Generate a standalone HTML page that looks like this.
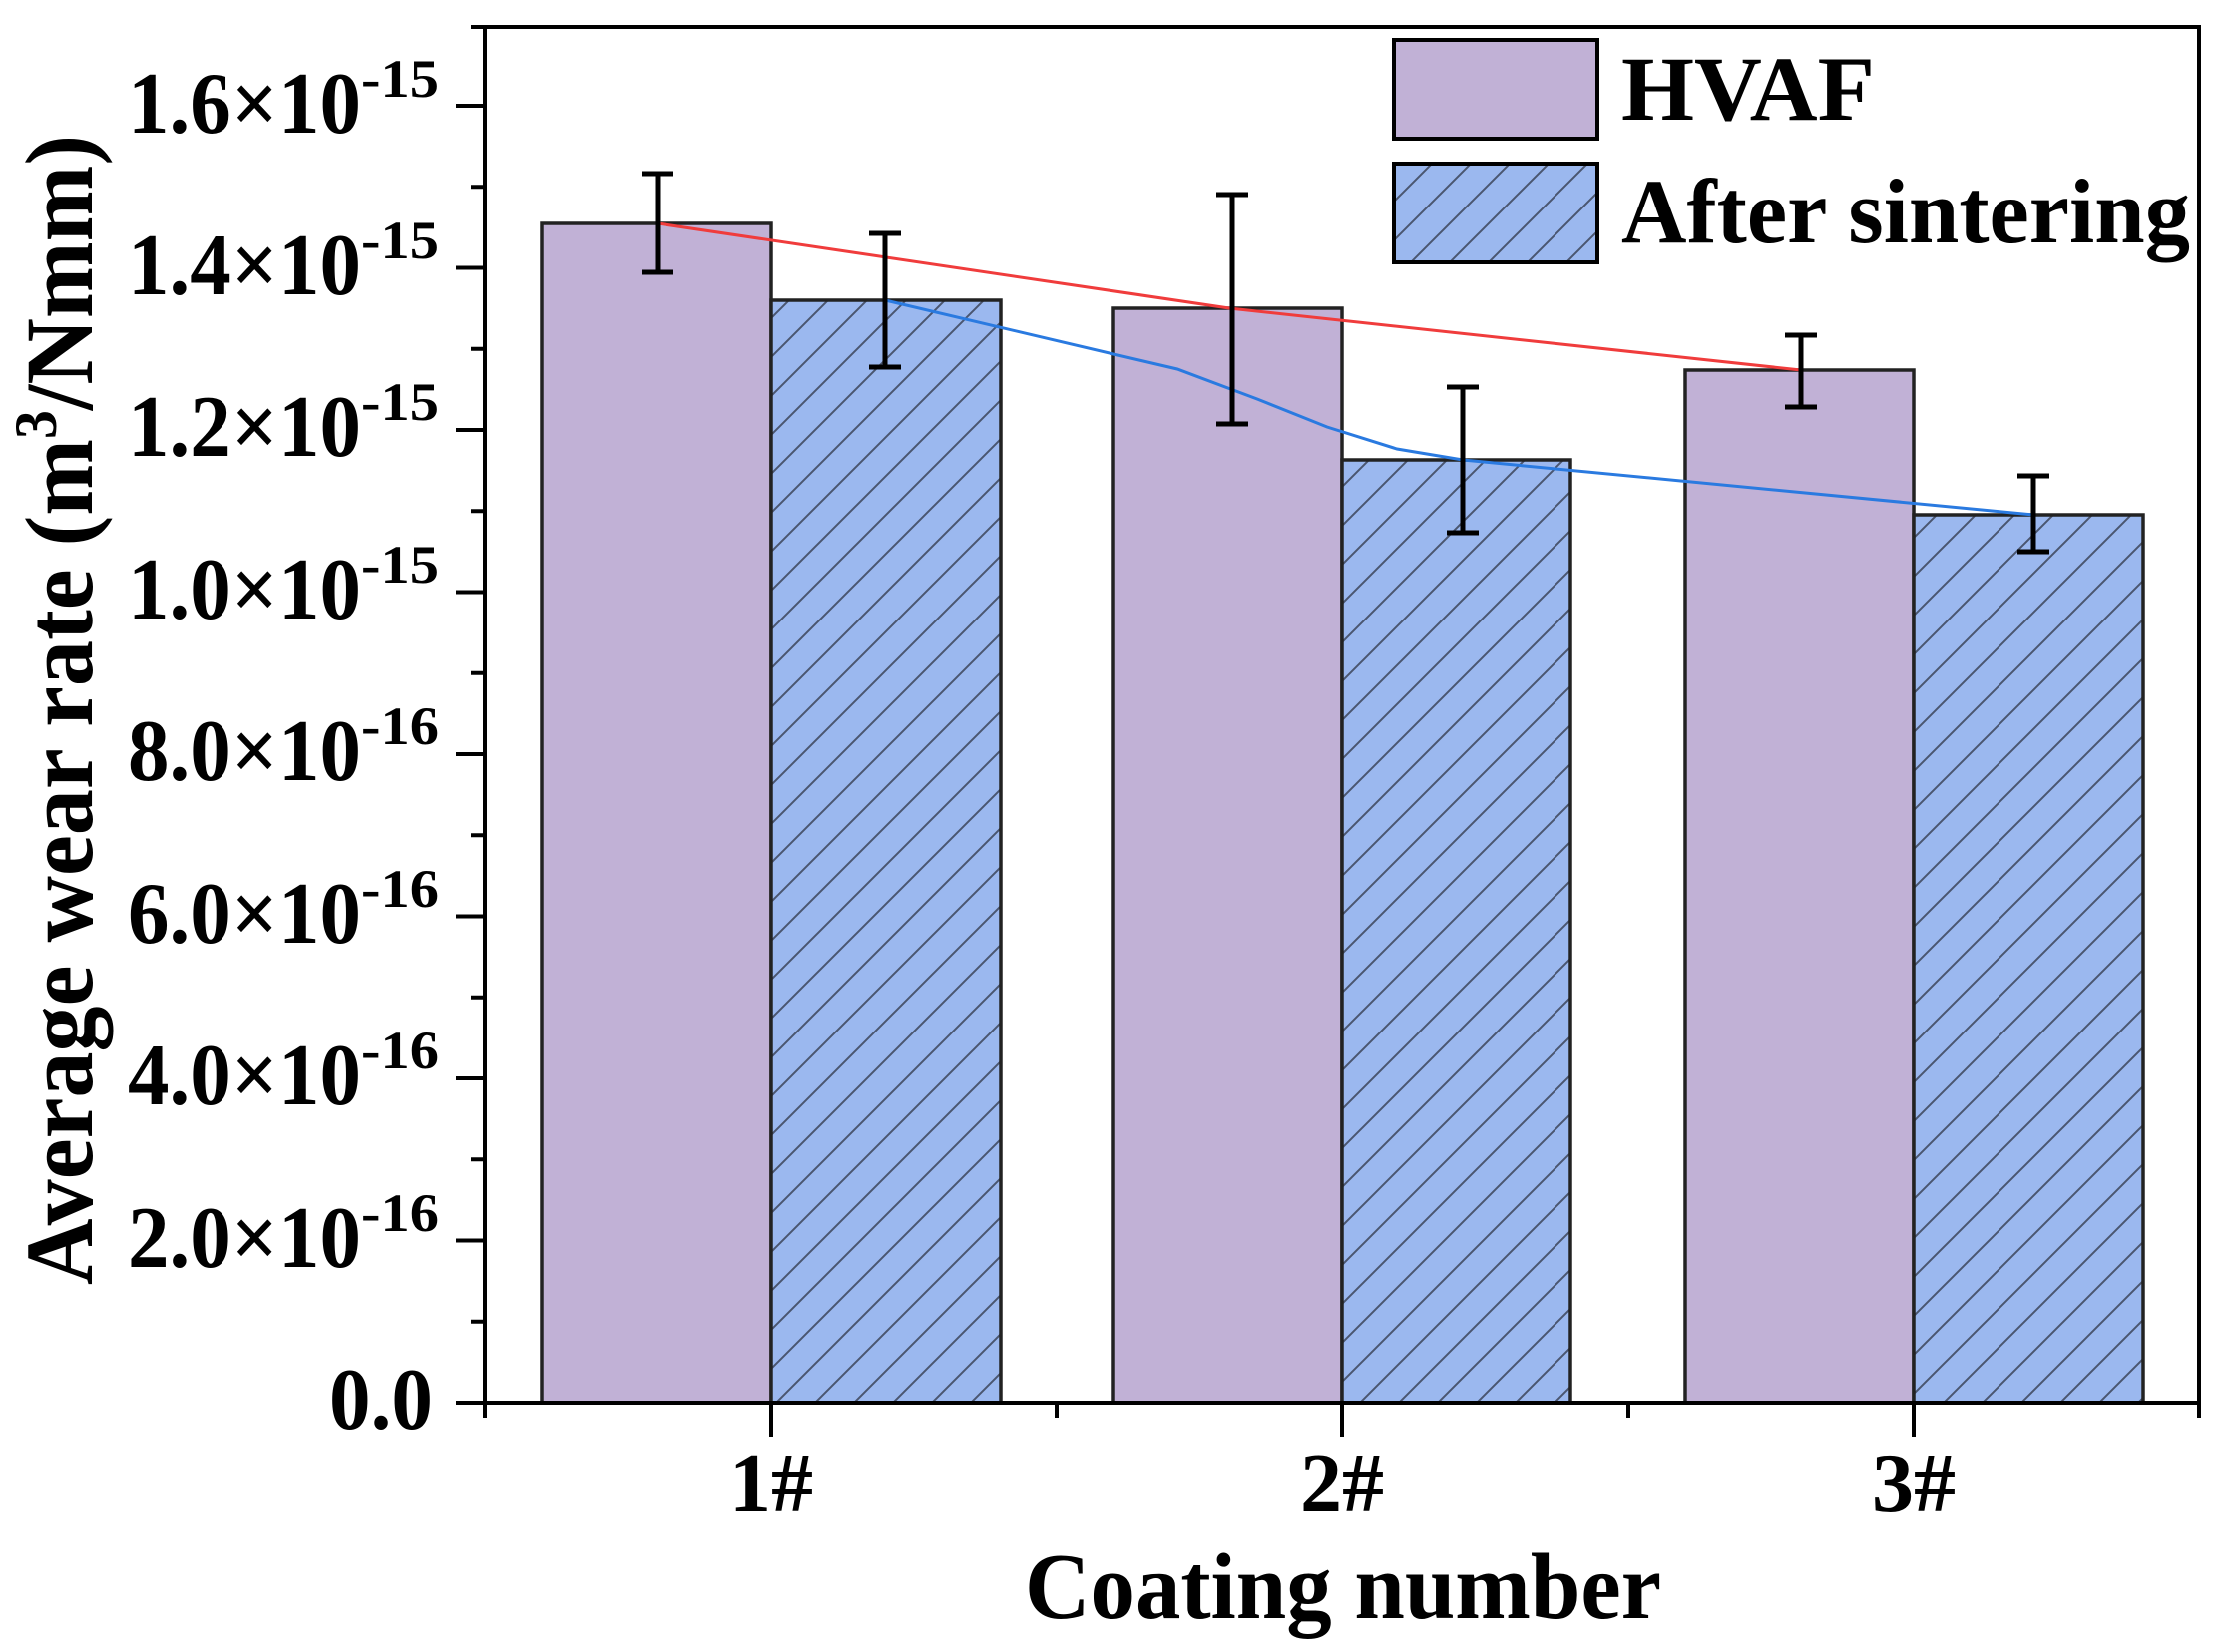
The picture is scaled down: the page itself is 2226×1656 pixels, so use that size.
<!DOCTYPE html>
<html><head><meta charset="utf-8"><style>html,body{margin:0;padding:0;background:#fff}svg{display:block}</style></head>
<body>
<svg width="2226" height="1656" viewBox="0 0 2226 1656" xmlns="http://www.w3.org/2000/svg" font-family="'Liberation Serif', serif" font-weight="bold">
<defs>
<pattern id="h" patternUnits="userSpaceOnUse" width="39" height="39">
<rect width="39" height="39" fill="#9bb8ef"/>
<path d="M-10,49 L49,-10 M-10,10 L10,-10 M29,49 L49,29" stroke="#4a5670" stroke-width="2"/>
</pattern>
</defs>
<g stroke="#222" stroke-width="3.5">
<rect x="543" y="224" width="230" height="1182" fill="#c1b1d6"/>
<rect x="773" y="301" width="230" height="1105" fill="url(#h)"/>
<rect x="1116" y="309" width="229" height="1097" fill="#c1b1d6"/>
<rect x="1345" y="461" width="229" height="945" fill="url(#h)"/>
<rect x="1689" y="371" width="229" height="1035" fill="#c1b1d6"/>
<rect x="1918" y="516" width="230" height="890" fill="url(#h)"/>
</g>
<polyline points="659,224 1232,309 1805,371" fill="none" stroke="#f03c3c" stroke-width="3"/>
<polyline points="887,301 1180,370 1260,400 1330,428 1400,450 1466,461 2038,516" fill="none" stroke="#2a7ae0" stroke-width="3"/>
<g stroke="#000" stroke-width="5" fill="none">
<path d="M659,174V273M643,174H675M643,273H675"/>
<path d="M887,234V368M871,234H903M871,368H903"/>
<path d="M1235,195V425M1219,195H1251M1219,425H1251"/>
<path d="M1466,388V534M1450,388H1482M1450,534H1482"/>
<path d="M1805,336V408M1789,336H1821M1789,408H1821"/>
<path d="M2038,477V553M2022,477H2054M2022,553H2054"/>
</g>
<g stroke="#000" stroke-width="4" fill="none">
<path d="M486,27V1406H2204V27H486"/>
<path d="M457,1406H486M457,1243.5H486M457,1081H486M457,918.5H486M457,756H486M457,593.5H486M457,431H486M457,268.5H486M457,106H486"/>
<path d="M472,1324.75H486M472,1162.25H486M472,999.75H486M472,837.25H486M472,674.75H486M472,512.25H486M472,349.75H486M472,187.25H486M472,27H486"/>
<path d="M773,1406V1440M1345,1406V1440M1918,1406V1440M486,1406V1421M1059,1406V1421M1632,1406V1421M2204,1406V1421"/>
</g>
<g fill="#000">
<text x="330" y="1432" font-size="88" textLength="104" lengthAdjust="spacingAndGlyphs">0.0</text>
<g font-size="88">
<text x="128" y="1270" textLength="234" lengthAdjust="spacingAndGlyphs">2.0×10</text>
<text x="128" y="1107" textLength="234" lengthAdjust="spacingAndGlyphs">4.0×10</text>
<text x="128" y="945" textLength="234" lengthAdjust="spacingAndGlyphs">6.0×10</text>
<text x="128" y="782" textLength="234" lengthAdjust="spacingAndGlyphs">8.0×10</text>
<text x="128" y="620" textLength="234" lengthAdjust="spacingAndGlyphs">1.0×10</text>
<text x="128" y="457" textLength="234" lengthAdjust="spacingAndGlyphs">1.2×10</text>
<text x="128" y="295" textLength="234" lengthAdjust="spacingAndGlyphs">1.4×10</text>
<text x="128" y="133" textLength="234" lengthAdjust="spacingAndGlyphs">1.6×10</text>
</g>
<g font-size="54">
<text x="362" y="1234" textLength="78" lengthAdjust="spacingAndGlyphs">-16</text>
<text x="362" y="1071" textLength="78" lengthAdjust="spacingAndGlyphs">-16</text>
<text x="362" y="909" textLength="78" lengthAdjust="spacingAndGlyphs">-16</text>
<text x="362" y="746" textLength="78" lengthAdjust="spacingAndGlyphs">-16</text>
<text x="362" y="584" textLength="78" lengthAdjust="spacingAndGlyphs">-15</text>
<text x="362" y="421" textLength="78" lengthAdjust="spacingAndGlyphs">-15</text>
<text x="362" y="259" textLength="78" lengthAdjust="spacingAndGlyphs">-15</text>
<text x="362" y="97" textLength="78" lengthAdjust="spacingAndGlyphs">-15</text>
</g>
<g font-size="84" text-anchor="middle">
<text x="773" y="1515">1#</text>
<text x="1345" y="1515">2#</text>
<text x="1918" y="1515">3#</text>
</g>
<text x="1027" y="1622" font-size="94" textLength="638" lengthAdjust="spacingAndGlyphs">Coating number</text>
<text transform="translate(92,1288) rotate(-90)" font-size="96" textLength="1153" lengthAdjust="spacingAndGlyphs">Average wear rate (m<tspan font-size="60" dy="-36">3</tspan><tspan dy="36">/Nmm)</tspan></text>
<rect x="1397" y="40" width="204" height="99" fill="#c1b1d6" stroke="#000" stroke-width="4"/>
<rect x="1397" y="164" width="204" height="99" fill="url(#h)" stroke="#000" stroke-width="4"/>
<text x="1625" y="120" font-size="92" textLength="254" lengthAdjust="spacingAndGlyphs">HVAF</text>
<text x="1625" y="243" font-size="92" textLength="570" lengthAdjust="spacingAndGlyphs">After sintering</text>
</g>
</svg>
</body></html>
